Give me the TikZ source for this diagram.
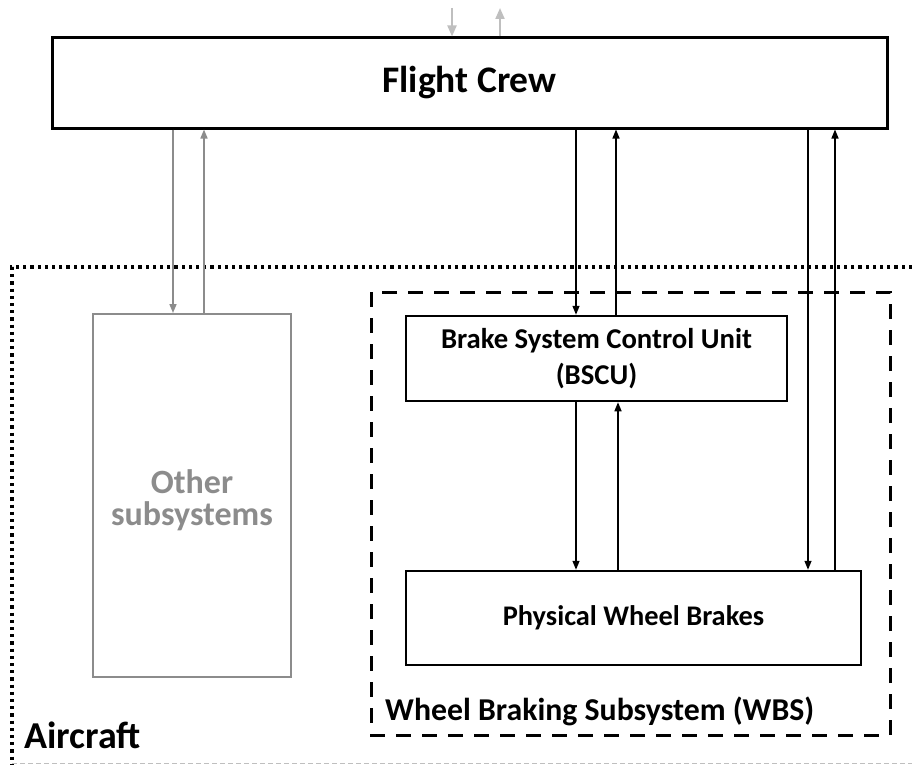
\documentclass[tikz,border=0pt]{standalone}
\usepackage{fontspec}
\setmainfont{Carlito}
\usetikzlibrary{arrows.meta,calc}
\definecolor{midgray}{HTML}{8C8C8C}
\definecolor{lightgray2}{HTML}{BFBFBF}
\tikzset{
  box/.style={draw=black, line width=2.5pt, inner sep=0pt, font=\bfseries},
  arr/.style={line width=1.4pt, -{Triangle[length=9pt,width=7pt]}},
  grayarr/.style={draw=midgray, line width=1.6pt, -{Triangle[length=9pt,width=7pt]}, midgray},
  lgarr/.style={draw=lightgray2, line width=2pt, -{Triangle[length=11pt,width=9pt]}, lightgray2},
}
\begin{document}
\begin{tikzpicture}[x=1pt,y=-1pt]
\useasboundingbox (0,0) rectangle (912,765);
% Aircraft boundary
\draw[line width=3.2pt, dash pattern=on 3.2pt off 4pt] (912,267) -- (12,267) -- (12,765);
\draw[lightgray2, line width=1.2pt, dash pattern=on 5pt off 3pt] (12,763.5) -- (912,763.5);
% WBS
\draw[line width=3pt, dash pattern=on 15pt off 11pt] (371,292) rectangle (890,735);
% Flight crew
\node[box, line width=3pt, minimum width=835pt, minimum height=90pt, font=\bfseries\fontsize{37.5}{42}\selectfont] (fc) at (469.5,83) {Flight Crew};
% Other subsystems
\node[draw=midgray, line width=2pt, minimum width=198pt, minimum height=363pt] (oth) at (192,495.5) {};
\node[text=midgray, align=center, inner sep=0pt, font=\bfseries\fontsize{34}{32}\selectfont] (othtxt) at ($(oth.center)+(0,5)$) {Other\\subsystems};
% BSCU
\node[box, minimum width=381pt, minimum height=85pt, align=center, font=\bfseries\fontsize{28.7}{36}\selectfont] (bscu) at (596.5,358.5) {Brake System Control Unit\\(BSCU)};
% PWB
\node[box, minimum width=455pt, minimum height=94pt, font=\bfseries\fontsize{28.4}{34}\selectfont] (pwb) at (633.5,618) {Physical Wheel Brakes};
% labels
\node[anchor=west, inner sep=0pt, font=\bfseries\fontsize{31.8}{36}\selectfont] (wbsl) at (385,711) {Wheel Braking Subsystem (WBS)};
\node[anchor=west, inner sep=0pt, font=\bfseries\fontsize{38}{44}\selectfont] (acl) at (24,735) {Aircraft};
% top gray arrows
\coordinate (tin) at (452,8);
\coordinate (tout) at (500,8);
\draw[lgarr] (tin) -- (tin |- fc.north);
\draw[lgarr] (tout |- fc.north) -- (tout);
% other subsystems arrows
\draw[grayarr] (fc.south -| 173,0) -- (oth.north -| 173,0);
\draw[grayarr] (oth.north -| 204,0) -- (fc.south -| 204,0);
% BSCU arrows
\draw[arr] (fc.south -| 576,0) -- (bscu.north -| 576,0);
\draw[arr] (bscu.north -| 616,0) -- (fc.south -| 616,0);
\draw[arr] (bscu.south -| 576,0) -- (pwb.north -| 576,0);
\draw[arr] (pwb.north -| 618,0) -- (bscu.south -| 618,0);
% PWB arrows
\draw[arr] (fc.south -| 808,0) -- (pwb.north -| 808,0);
\draw[arr] (pwb.north -| 835,0) -- (fc.south -| 835,0);
\end{tikzpicture}
\end{document}
